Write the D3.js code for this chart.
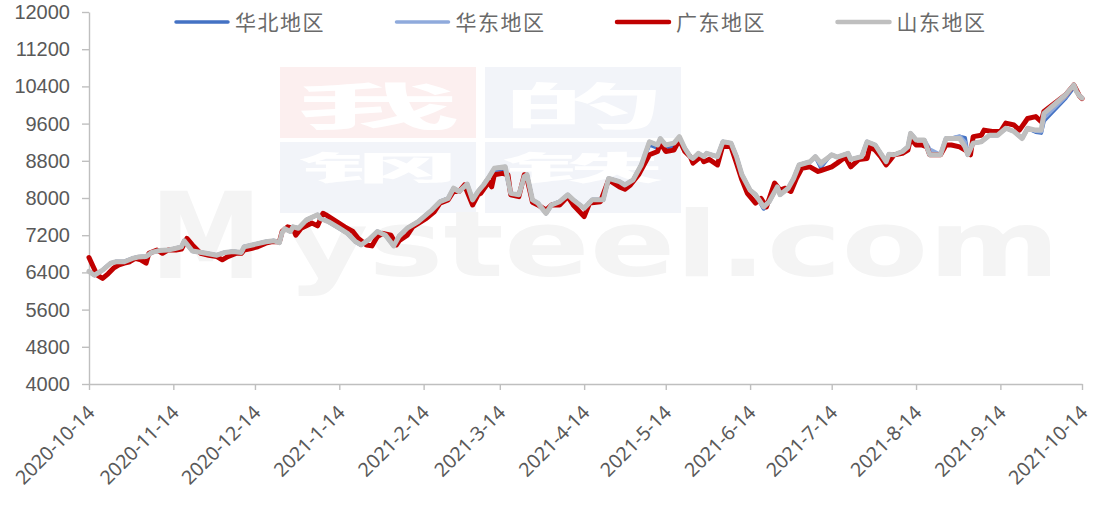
<!DOCTYPE html>
<html>
<head>
<meta charset="utf-8">
<script src="https://cdn.jsdelivr.net/npm/d3@7"></script>
<style>
  body { margin: 0; background: #fff; }
  svg { display: block; }
</style>
</head>
<body>
<div id="chart"></div>
<script>
// ---- data ----
var seriesNames = ["华北地区", "华东地区", "广东地区", "山东地区"];

// dates shared by 华北 / 华东 / 山东
var datesA = [
  "2020-10-14","2020-10-16","2020-10-19","2020-10-22","2020-10-24","2020-10-27","2020-10-30","2020-11-01","2020-11-04","2020-11-06",
  "2020-11-09","2020-11-12","2020-11-15","2020-11-17","2020-11-18","2020-11-21","2020-11-26","2020-11-30","2020-12-03","2020-12-06",
  "2020-12-09","2020-12-10","2020-12-13","2020-12-18","2020-12-21","2020-12-23","2020-12-24","2020-12-25","2020-12-27","2020-12-28",
  "2020-12-30","2021-01-02","2021-01-06","2021-01-07","2021-01-10","2021-01-14","2021-01-17","2021-01-20","2021-01-22","2021-01-25",
  "2021-01-28","2021-01-31","2021-02-03","2021-02-05","2021-02-08","2021-02-12","2021-02-17","2021-02-20","2021-02-23","2021-02-25",
  "2021-02-27","2021-03-02","2021-03-04","2021-03-06","2021-03-08","2021-03-10","2021-03-12","2021-03-16","2021-03-18","2021-03-21",
  "2021-03-23","2021-03-24","2021-03-26","2021-03-28","2021-03-31","2021-04-02","2021-04-05","2021-04-08","2021-04-10","2021-04-14",
  "2021-04-17","2021-04-21","2021-04-23","2021-04-27","2021-04-29","2021-05-02","2021-05-05","2021-05-08","2021-05-11","2021-05-12",
  "2021-05-14","2021-05-17","2021-05-19","2021-05-21","2021-05-23","2021-05-24","2021-05-26","2021-05-28","2021-05-29","2021-06-02",
  "2021-06-04","2021-06-07","2021-06-09","2021-06-11","2021-06-14","2021-06-16","2021-06-19","2021-06-21","2021-06-24","2021-06-25",
  "2021-06-28","2021-06-30","2021-07-02","2021-07-06","2021-07-08","2021-07-10","2021-07-13","2021-07-14","2021-07-16","2021-07-20",
  "2021-07-21","2021-07-25","2021-07-27","2021-07-30","2021-08-01","2021-08-03","2021-08-04","2021-08-06","2021-08-09","2021-08-11",
  "2021-08-12","2021-08-14","2021-08-17","2021-08-19","2021-08-23","2021-08-25","2021-08-27","2021-08-30","2021-09-01","2021-09-02",
  "2021-09-04","2021-09-07","2021-09-10","2021-09-13","2021-09-16","2021-09-19","2021-09-22","2021-09-24","2021-09-27","2021-09-29",
  "2021-09-30","2021-10-08","2021-10-11","2021-10-12","2021-10-13","2021-10-14"
];

var shandong = [
  6420,6340,6450,6600,6630,6630,6700,6730,6740,6830,
  6870,6880,6920,6950,7080,6860,6810,6770,6830,6850,
  6830,6950,6990,7060,7080,7040,7260,7340,7280,7380,
  7350,7530,7640,7560,7490,7350,7240,7060,6990,7110,
  7280,7200,6970,7180,7350,7490,7740,7920,7990,8210,
  8140,8300,7960,8140,8280,8450,8640,8670,8100,8070,
  8460,8500,7960,7890,7670,7850,7920,8070,7960,7780,
  7960,7960,8420,8350,8280,8390,8710,9210,9140,9280,
  9140,9180,9320,9070,8890,8850,8960,8890,8960,8890,
  9210,9180,8890,8500,8170,8070,7810,7920,8240,8070,
  8210,8420,8710,8780,8890,8750,8880,8930,8880,8960,
  8830,8890,9210,9140,8960,8780,8940,8930,9000,9100,
  9390,9250,9250,8930,8930,9280,9280,9280,9100,8930,
  9180,9210,9350,9350,9500,9430,9280,9500,9460,9460,
  9820,10220,10430,10290,10200,10150
];

var huabei = [
  6420,6340,6450,6600,6630,6630,6700,6730,6740,6830,
  6870,6880,6920,6950,7080,6860,6810,6770,6830,6850,
  6830,6950,6990,7060,7080,7040,7260,7340,7280,7380,
  7350,7530,7640,7560,7490,7350,7240,7060,6990,7110,
  7280,7200,6970,7180,7350,7490,7740,7920,7990,8210,
  8140,8300,7960,8140,8280,8450,8600,8620,8100,8070,
  8460,8500,7960,7890,7670,7850,7920,8070,7960,7780,
  7960,7960,8420,8350,8280,8390,8710,9150,9080,9200,
  9080,9120,9260,9070,8890,8850,8960,8890,8960,8890,
  9210,9180,8890,8500,8170,8070,7770,7920,8240,8070,
  8210,8420,8710,8780,8890,8660,8880,8930,8880,8960,
  8830,8890,9210,9140,8960,8780,8940,8930,9000,9100,
  9390,9250,9250,8930,8930,9280,9280,9320,9290,8930,
  9180,9210,9350,9350,9500,9430,9280,9500,9420,9400,
  9660,10150,10380,10290,10200,10150
];

var huadong = [
  6420,6340,6450,6600,6630,6630,6700,6730,6740,6830,
  6870,6880,6920,6950,7080,6860,6810,6770,6830,6850,
  6830,6950,6990,7060,7080,7040,7260,7340,7280,7380,
  7350,7530,7640,7560,7490,7350,7240,7060,6990,7110,
  7280,7200,6970,7180,7350,7490,7740,7920,7990,8210,
  8140,8300,7960,8140,8280,8450,8640,8670,8100,8070,
  8460,8500,7960,7890,7670,7850,7920,8070,7960,7780,
  7960,7960,8420,8350,8280,8390,8710,9210,9140,9280,
  9140,9180,9290,9070,8890,8850,8960,8890,8960,8890,
  9210,9180,8890,8500,8170,8070,7810,7920,8240,8070,
  8210,8420,8710,8780,8890,8700,8880,8930,8880,8960,
  8830,8890,9210,9140,8960,8780,8940,8930,9000,9100,
  9390,9250,9250,9050,8930,9280,9280,9330,9200,8930,
  9180,9210,9350,9350,9500,9430,9280,9500,9440,9430,
  9720,10180,10430,10290,10200,10150
];

// 广东 has its own dates
var datesB = [
  "2020-10-14","2020-10-17","2020-10-19","2020-10-21","2020-10-23","2020-10-25","2020-10-27","2020-10-29","2020-10-31","2020-11-02",
  "2020-11-04","2020-11-05","2020-11-08","2020-11-10","2020-11-12","2020-11-15","2020-11-17","2020-11-19","2020-11-21","2020-11-24",
  "2020-11-27","2020-11-30","2020-12-02","2020-12-04","2020-12-07","2020-12-09","2020-12-10","2020-12-13","2020-12-15","2020-12-18",
  "2020-12-20","2020-12-23","2020-12-24","2020-12-26","2020-12-28","2020-12-29","2020-12-31","2021-01-04","2021-01-06","2021-01-08",
  "2021-01-09","2021-01-12","2021-01-16","2021-01-19","2021-01-21","2021-01-24","2021-01-26","2021-01-28","2021-01-30","2021-02-02",
  "2021-02-04","2021-02-05","2021-02-08","2021-02-10","2021-02-15","2021-02-18","2021-02-20","2021-02-23","2021-02-25","2021-02-27",
  "2021-03-01","2021-03-04","2021-03-06","2021-03-07","2021-03-10","2021-03-11","2021-03-12","2021-03-15","2021-03-17","2021-03-18",
  "2021-03-21","2021-03-23","2021-03-24","2021-03-26","2021-03-28","2021-03-31","2021-04-02","2021-04-05","2021-04-08","2021-04-10",
  "2021-04-14","2021-04-16","2021-04-20","2021-04-23","2021-04-27","2021-04-29","2021-05-01","2021-05-04","2021-05-08","2021-05-11",
  "2021-05-12","2021-05-14","2021-05-17","2021-05-19","2021-05-21","2021-05-23","2021-05-24","2021-05-27","2021-05-28","2021-05-30",
  "2021-06-02","2021-06-04","2021-06-07","2021-06-09","2021-06-11","2021-06-13","2021-06-16","2021-06-18","2021-06-20","2021-06-23",
  "2021-06-25","2021-06-27","2021-06-29","2021-07-01","2021-07-03","2021-07-06","2021-07-09","2021-07-10","2021-07-14","2021-07-16",
  "2021-07-19","2021-07-21","2021-07-24","2021-07-27","2021-07-28","2021-07-30","2021-08-01","2021-08-03","2021-08-04","2021-08-06",
  "2021-08-09","2021-08-11","2021-08-12","2021-08-14","2021-08-16","2021-08-18","2021-08-19","2021-08-23","2021-08-25","2021-08-27",
  "2021-08-30","2021-09-02","2021-09-03","2021-09-04","2021-09-07","2021-09-08","2021-09-11","2021-09-14","2021-09-16","2021-09-19",
  "2021-09-21","2021-09-24","2021-09-27","2021-09-29","2021-09-30","2021-10-08","2021-10-11","2021-10-12","2021-10-13","2021-10-14"
];

var guangdong = [
  6720,6340,6270,6370,6490,6560,6600,6630,6700,6670,
  6600,6810,6880,6810,6880,6880,6900,7130,6990,6810,
  6770,6740,6670,6740,6810,6810,6880,6920,6950,7030,
  7060,7060,7280,7380,7350,7200,7350,7460,7400,7670,
  7640,7530,7380,7280,7130,6990,6970,7170,7240,7200,
  6990,7080,7200,7380,7560,7710,7890,7960,8140,8140,
  8280,7850,8070,8100,8350,8240,8500,8530,8500,8070,
  8030,8500,8420,7910,7850,7740,7850,7850,8030,7850,
  7600,7890,7920,8390,8240,8190,8280,8500,8930,9000,
  9180,9000,9030,9250,9000,8890,8750,8890,8780,8830,
  8710,9140,9100,8750,8390,8100,7890,7990,7810,8320,
  8170,8210,8140,8420,8640,8670,8570,8590,8670,8750,
  8880,8670,8830,8850,9100,9030,8890,8710,8780,8930,
  8960,9030,9280,9140,9140,9100,8930,8930,9140,9140,
  9100,9000,8930,9320,9350,9460,9430,9430,9610,9570,
  9460,9710,9750,9640,9860,10220,10430,10320,10200,10140
];

var yTickValues = [4000, 4800, 5600, 6400, 7200, 8000, 8800, 9600, 10400, 11200, 12000];
var xTickLabels = ["2020-10-14","2020-11-14","2020-12-14","2021-1-14","2021-2-14","2021-3-14",
                   "2021-4-14","2021-5-14","2021-6-14","2021-7-14","2021-8-14","2021-9-14","2021-10-14"];

// ---- layout ----
var W = 1093, H = 506;
var margin = {left: 89, right: 11, top: 12, bottom: 122};

var parse = d3.timeParse("%Y-%m-%d");
var parseTick = d3.timeParse("%Y-%-m-%-d");

var svg = d3.select("#chart").append("svg")
    .attr("width", W)
    .attr("height", H);

var x = d3.scaleTime()
    .domain([parse("2020-10-14"), parse("2021-10-14")])
    .range([margin.left, W - margin.right]);
var y = d3.scaleLinear()
    .domain([4000, 12000])
    .range([H - margin.bottom, margin.top]);

// faint watermark behind the plot
var wm = svg.append("g").attr("class", "watermark");
var blocks = [
    {ch: "我", x: 280, y: 67, fill: "#fcefef", size: 50, base: 58},
    {ch: "的", x: 485, y: 67, fill: "#f2f4f9", size: 50, base: 58},
    {ch: "钢", x: 280, y: 142, fill: "#f2f4f9", size: 33, base: 38},
    {ch: "铁", x: 485, y: 142, fill: "#f2f4f9", size: 33, base: 38}
];
blocks.forEach(function (b) {
    wm.append("rect").attr("x", b.x).attr("y", b.y)
        .attr("width", 196).attr("height", 71).attr("fill", b.fill);
});
blocks.forEach(function (b) {
    wm.append("text")
        .attr("x", b.x + 16).attr("y", b.y + b.base)
        .attr("font-family", "Noto Sans CJK SC").attr("font-weight", "bold")
        .attr("font-size", b.size)
        .attr("textLength", 164).attr("lengthAdjust", "spacingAndGlyphs")
        .attr("fill", "#fff")
        .text(b.ch);
});
wm.append("text")
    .attr("x", 150).attr("y", 278)
    .attr("font-family", "DejaVu Sans").attr("font-weight", "bold")
    .attr("font-size", 120)
    .attr("textLength", 112).attr("lengthAdjust", "spacingAndGlyphs")
    .attr("fill", "#f4f4f4")
    .text("M");
wm.append("text")
    .attr("x", 286).attr("y", 276)
    .attr("font-family", "DejaVu Sans").attr("font-weight", "bold")
    .attr("font-size", 91)
    .attr("textLength", 774).attr("lengthAdjust", "spacingAndGlyphs")
    .attr("fill", "#f4f4f4")
    .text("ysteel.com");

// axes
var yAxis = svg.append("g")
    .attr("transform", "translate(" + margin.left + ",0)")
    .call(d3.axisLeft(y).tickValues(yTickValues).tickSize(7).tickSizeOuter(0).tickPadding(12)
        .tickFormat(d3.format("d")));
yAxis.selectAll("path, line").attr("stroke", "#bfbfbf").attr("stroke-width", 1.4);
yAxis.selectAll("text")
    .attr("font-family", "Liberation Sans, Arial, sans-serif").attr("font-size", 20).attr("fill", "#595959");

var tickDates = xTickLabels.map(function (s) { return parseTick(s); });
var xAxis = svg.append("g")
    .attr("transform", "translate(0," + (H - margin.bottom) + ")")
    .call(d3.axisBottom(x).tickValues(tickDates).tickSize(6).tickSizeOuter(0).tickFormat(""));
xAxis.selectAll("path, line").attr("stroke", "#bfbfbf").attr("stroke-width", 1.4);

svg.append("g").selectAll("text.xl")
    .data(xTickLabels)
    .enter().append("text")
    .attr("class", "xl")
    .attr("transform", function (d) {
        return "translate(" + (x(parseTick(d)) + 2) + "," + (H - margin.bottom + 25) + ") rotate(-45)";
    })
    .attr("text-anchor", "end")
    .attr("dy", "0.35em")
    .attr("font-family", "Noto Sans").attr("font-size", 19.5).attr("fill", "#595959")
    .text(function (d) { return d; });

// lines
var line = d3.line()
    .x(function (d) { return x(d.date); })
    .y(function (d) { return y(d.value); });

function pack(dates, values) {
    return dates.map(function (s, i) { return {date: parse(s), value: values[i]}; });
}

var series = [
    {name: seriesNames[0], data: pack(datesA, huabei), color: "#4472c4", width: 4},
    {name: seriesNames[1], data: pack(datesA, huadong), color: "#8faadc", width: 4},
    {name: seriesNames[2], data: pack(datesB, guangdong), color: "#c00000", width: 5},
    {name: seriesNames[3], data: pack(datesA, shandong), color: "#bfbfbf", width: 5}
];

svg.append("g").selectAll("path")
    .data(series)
    .enter().append("path")
    .attr("fill", "none")
    .attr("stroke", function (d) { return d.color; })
    .attr("stroke-width", function (d) { return d.width; })
    .attr("stroke-linejoin", "round")
    .attr("stroke-linecap", "round")
    .attr("d", function (d) { return line(d.data); });

// legend
var legend = svg.append("g").selectAll("g")
    .data(series)
    .enter().append("g")
    .attr("transform", function (d, i) { return "translate(" + (176 + i * 220.5) + ",22)"; });
legend.append("line")
    .attr("x1", 0).attr("x2", 52)
    .attr("stroke", function (d) { return d.color; })
    .attr("stroke-width", function (d) { return d.width - 0.5; })
    .attr("stroke-linecap", "round");
legend.append("text")
    .attr("x", 59)
    .attr("dy", "0.36em")
    .attr("font-family", "Noto Sans CJK SC").attr("font-size", 21)
    .attr("letter-spacing", 1.5)
    .attr("fill", "#6a6a6a")
    .text(function (d) { return d.name; });
</script>
</body>
</html>
